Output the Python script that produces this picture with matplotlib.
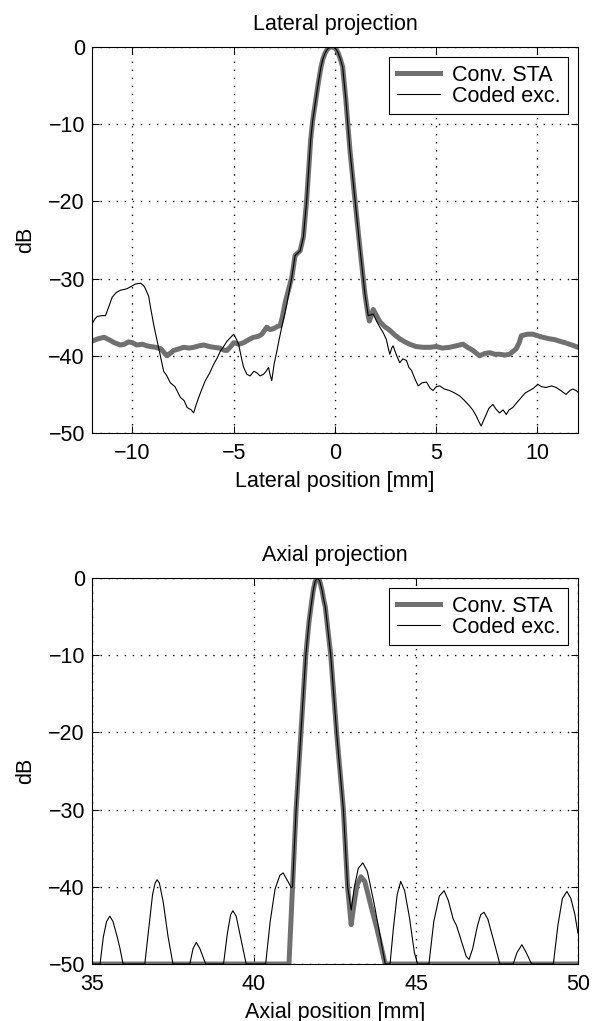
import numpy as np
import matplotlib
matplotlib.use('Agg')
import matplotlib.pyplot as plt

# ---- lateral projection ----
lat_main_x = [-2.13, -1.97, -1.72, -1.56, -1.40, -1.20, -1.10, -0.95, -0.82, -0.69,
              -0.60, -0.49, -0.38, -0.27, -0.16, -0.05, 0.06, 0.16, 0.27, 0.38,
              0.54, 0.65, 0.74, 0.99, 1.23, 1.48]
lat_main_y = [-29.8, -27.0, -26.4, -24.6, -19.9, -12.0, -9.5, -6.9, -4.6, -2.6,
              -1.6, -0.8, -0.3, -0.05, 0.0, -0.05, -0.3, -0.8, -1.6, -2.6,
              -6.9, -10.5, -13.4, -19.9, -26.0, -32.0]

conv_lat_left_x = [-12.0, -11.7, -11.4, -11.1, -10.9, -10.6, -10.4, -10.2, -10.0, -9.8,
                   -9.5, -9.3, -9.1, -8.85, -8.6, -8.4, -8.29, -8.1, -7.96, -7.7,
                   -7.47, -7.2, -6.98, -6.7, -6.48, -6.2, -5.99, -5.7, -5.45, -5.33,
                   -5.15, -5.0, -4.75, -4.51, -4.25, -4.02, -3.8, -3.61, -3.45, -3.37,
                   -3.2, -3.04, -2.85, -2.71, -2.6, -2.45, -2.3]
conv_lat_left_y = [-38.1, -37.8, -37.6, -38.0, -38.3, -38.6, -38.5, -38.2, -38.3, -38.6,
                   -38.5, -38.7, -38.8, -38.9, -39.1, -39.7, -40.0, -39.6, -39.3, -39.1,
                   -38.9, -39.0, -38.9, -38.7, -38.6, -38.8, -38.9, -39.0, -39.3, -39.3,
                   -38.8, -38.3, -38.5, -38.3, -37.9, -37.6, -37.5, -37.2, -36.6, -36.3,
                   -36.6, -36.5, -36.2, -36.1, -35.0, -33.0, -31.5]
conv_lat_right_x = [1.64, 1.70, 1.89, 2.05, 2.22, 2.45, 2.71, 2.95, 3.2, 3.45,
                    3.69, 4.0, 4.35, 4.7, 5.0, 5.3, 5.66, 6.0, 6.32, 6.55,
                    6.81, 7.14, 7.4, 7.64, 7.9, 8.13, 8.4, 8.62, 8.95, 9.1,
                    9.2, 9.5, 9.77, 10.0, 10.26, 10.59, 10.85, 11.08, 11.35, 11.58,
                    11.8, 12.0]
conv_lat_right_y = [-34.8, -35.5, -34.0, -34.8, -35.6, -36.2, -36.7, -37.3, -37.8, -38.2,
                    -38.5, -38.8, -38.9, -38.9, -38.8, -39.0, -38.9, -38.7, -38.5, -38.9,
                    -39.3, -40.0, -39.7, -39.6, -39.8, -39.8, -39.9, -39.8, -39.1, -38.3,
                    -37.4, -37.2, -37.2, -37.4, -37.6, -37.8, -37.9, -38.1, -38.3, -38.5,
                    -38.7, -38.9]

coded_lat_left_x = [-12.0, -11.85, -11.74, -11.5, -11.33, -11.15, -11.0, -10.8, -10.59, -10.4,
                    -10.26, -10.05, -9.85, -9.6, -9.45, -9.36, -9.2, -9.11, -8.95, -8.78,
                    -8.6, -8.46, -8.3, -8.13, -7.9, -7.63, -7.45, -7.3, -7.1, -6.98,
                    -6.85, -6.73, -6.6, -6.4, -6.2, -5.99, -5.8, -5.66, -5.5, -5.33,
                    -5.15, -5.0, -4.88, -4.76, -4.6, -4.51, -4.35, -4.19, -4.0, -3.86,
                    -3.7, -3.53, -3.4, -3.28, -3.2, -3.12, -3.0, -2.87, -2.75, -2.63,
                    -2.5, -2.38]
coded_lat_left_y = [-35.9, -35.2, -34.9, -34.8, -34.8, -33.5, -32.4, -31.8, -31.5, -31.4,
                    -31.3, -31.0, -30.7, -30.6, -30.9, -31.3, -32.3, -33.7, -36.0, -38.1,
                    -40.3, -42.0, -42.6, -43.5, -44.0, -45.4, -45.8, -46.7, -47.0, -47.4,
                    -46.3, -45.4, -44.5, -43.2, -42.3, -41.1, -40.2, -39.4, -38.8, -38.1,
                    -37.6, -37.2, -37.8, -38.5, -40.5, -41.5, -42.4, -42.6, -42.0, -42.2,
                    -42.6, -42.4, -42.0, -41.5, -42.5, -43.2, -41.0, -39.4, -37.8, -36.3,
                    -34.8, -33.3]
coded_lat_right_x = [1.64, 1.89, 2.05, 2.22, 2.38, 2.54, 2.63, 2.71, 2.8, 2.87,
                     3.05, 3.2, 3.35, 3.53, 3.65, 3.78, 3.95, 4.11, 4.3, 4.52,
                     4.7, 4.84, 5.0, 5.17, 5.4, 5.66, 5.9, 6.16, 6.4, 6.65,
                     6.8, 6.98, 7.1, 7.22, 7.35, 7.47, 7.6, 7.8, 7.95, 8.13,
                     8.3, 8.46, 8.6, 8.78, 9.0, 9.2, 9.4, 9.61, 9.8, 10.02,
                     10.2, 10.43, 10.7, 10.92, 11.15, 11.41, 11.6, 11.74, 11.9, 12.0]
coded_lat_right_y = [-34.8, -34.6, -35.5, -36.3, -37.0, -37.9, -39.0, -39.8, -39.0, -38.7,
                     -40.0, -40.9, -40.4, -40.6, -41.5, -41.9, -43.0, -43.9, -43.5, -43.4,
                     -44.2, -44.5, -44.0, -43.9, -44.3, -44.5, -44.8, -45.2, -45.8, -46.5,
                     -47.0, -47.8, -48.5, -49.1, -48.3, -47.6, -46.8, -46.3, -46.9, -47.4,
                     -47.0, -47.6, -47.0, -46.7, -46.0, -45.4, -44.8, -44.5, -44.2, -43.7,
                     -44.0, -44.1, -43.9, -44.1, -44.5, -45.0, -44.5, -44.3, -44.5, -44.7]

# ---- axial projection ----
ax_main_x = [41.19, 41.30, 41.45, 41.60, 41.70, 41.76, 41.83, 41.89, 41.96, 42.03,
             42.10, 42.16, 42.20, 42.37, 42.55, 42.76, 42.89]
ax_main_y = [-40.0, -30.0, -20.0, -10.0, -5.6, -3.7, -1.6, -0.4, 0.0, -0.4,
             -1.6, -3.0, -3.7, -10.0, -20.0, -30.0, -40.0]

conv_ax_left_x = [35.0, 41.08]
conv_ax_left_y = [-50.0, -50.0]
conv_ax_right_x = [43.0, 43.08, 43.18, 43.3, 43.42, 43.6, 43.8, 44.05, 50.0]
conv_ax_right_y = [-44.9, -42.5, -39.8, -38.7, -39.3, -42.3, -45.5, -50.0, -50.0]

coded_ax_left_x = [35.0, 35.25, 35.35, 35.45, 35.55, 35.65, 35.78, 35.86, 35.96,
                   36.63, 36.75, 36.87, 36.95, 37.01, 37.08, 37.2, 37.35, 37.5,
                   38.02, 38.12, 38.22, 38.33, 38.51,
                   39.06, 39.18, 39.28, 39.35, 39.45, 39.6, 39.76,
                   40.36, 40.5, 40.65, 40.8, 40.9, 41.05, 41.15]
coded_ax_left_y = [-50.0, -50.0, -46.5, -44.5, -43.8, -44.5, -46.5, -47.9, -50.0,
                   -50.0, -45.5, -41.0, -39.5, -39.1, -39.5, -42.0, -46.5, -50.0,
                   -50.0, -48.0, -47.2, -48.0, -50.0,
                   -50.0, -46.0, -43.6, -43.1, -43.8, -46.8, -50.0,
                   -50.0, -44.5, -40.3, -38.5, -38.2, -39.3, -40.1]
coded_ax_right_x = [43.0, 43.1, 43.22, 43.36, 43.5, 43.7, 43.9, 44.05,
                    44.2, 44.3, 44.42, 44.53, 44.65, 44.8, 44.95, 45.05,
                    45.4, 45.55, 45.72, 45.87, 46.0, 46.15, 46.25, 46.4, 46.55, 46.64,
                    46.75, 46.9, 47.0, 47.1, 47.22, 47.4, 47.59,
                    48.0, 48.12, 48.27, 48.4, 48.57,
                    49.24, 49.38, 49.52, 49.66, 49.78, 49.9, 50.0]
coded_ax_right_y = [-43.0, -40.0, -37.6, -36.9, -38.0, -42.0, -46.5, -50.0,
                    -50.0, -45.5, -41.0, -39.3, -40.5, -44.0, -48.5, -50.0,
                    -50.0, -44.5, -41.2, -40.5, -41.8, -44.2, -45.0, -47.0, -49.0, -49.4,
                    -48.0, -45.0, -43.6, -43.3, -44.2, -47.0, -50.0,
                    -50.0, -48.5, -47.5, -48.5, -50.0,
                    -50.0, -45.0, -41.5, -40.6, -41.5, -43.5, -46.0]

lat_ticks = [-10, -5, 0, 5, 10]
ax_ticks = [35, 40, 45, 50]
db_ticks = [-50, -40, -30, -20, -10, 0]

CONV_COLOR = '#707070'
FS = 15.5

plt.rcParams['font.family'] = ['Liberation Sans', 'DejaVu Sans']
plt.rcParams['axes.unicode_minus'] = True


def style_axes(ax, xticks):
    ax.set_yticks(db_ticks)
    ax.set_xticks(xticks)
    ax.set_ylim(-50, 0)
    ax.grid(True, color='black', linestyle=(0, (1, 4.8)), linewidth=1.0)
    ax.tick_params(direction='in', top=True, right=True, length=5, width=0.75,
                   labelsize=FS)
    ax.tick_params(axis='x', pad=7)
    ax.tick_params(axis='y', pad=5)
    for sp in ax.spines.values():
        sp.set_linewidth(0.8)
    ax.set_ylabel('dB', fontsize=FS, labelpad=9)
    ax.legend(loc='upper right', bbox_to_anchor=(0.979, 0.974), borderaxespad=0,
              fontsize=FS, frameon=True, fancybox=False, framealpha=1,
              edgecolor='black', handlelength=2.0, handletextpad=0.55,
              labelspacing=0.0, borderpad=0.35)
    ax.get_legend().get_frame().set_linewidth(0.8)


fig = plt.figure(figsize=(5.98, 10.21), dpi=100)

# top: lateral
ax1 = fig.add_axes([0.1538, 0.5759, 0.8127, 0.3781])
conv_lat_x = conv_lat_left_x + lat_main_x + conv_lat_right_x
conv_lat_y = conv_lat_left_y + lat_main_y + conv_lat_right_y
coded_lat_x = coded_lat_left_x + lat_main_x + coded_lat_right_x
coded_lat_y = coded_lat_left_y + lat_main_y + coded_lat_right_y
ax1.plot(conv_lat_x, conv_lat_y, color=CONV_COLOR, lw=3.6, label='Conv. STA',
         solid_joinstyle='round')
ax1.plot(coded_lat_x, coded_lat_y, color='black', lw=0.8, label='Coded exc.')
ax1.set_xlim(-12, 12)
ax1.set_title('Lateral projection', fontsize=FS, pad=12)
ax1.set_xlabel('Lateral position [mm]', fontsize=FS, labelpad=5)
style_axes(ax1, lat_ticks)

# bottom: axial
ax2 = fig.add_axes([0.1538, 0.0558, 0.8127, 0.3781])
conv_ax_x = conv_ax_left_x + ax_main_x + conv_ax_right_x
conv_ax_y = conv_ax_left_y + ax_main_y + conv_ax_right_y
coded_ax_x = coded_ax_left_x + ax_main_x + coded_ax_right_x
coded_ax_y = coded_ax_left_y + ax_main_y + coded_ax_right_y
ax2.plot(conv_ax_x, conv_ax_y, color=CONV_COLOR, lw=3.6, label='Conv. STA',
         solid_joinstyle='round')
ax2.plot(coded_ax_x, coded_ax_y, color='black', lw=0.8, label='Coded exc.')
ax2.set_xlim(35, 50)
ax2.set_title('Axial projection', fontsize=FS, pad=12)
ax2.set_xlabel('Axial position [mm]', fontsize=FS, labelpad=5)
style_axes(ax2, ax_ticks)

fig.savefig('out.png', dpi=100)
